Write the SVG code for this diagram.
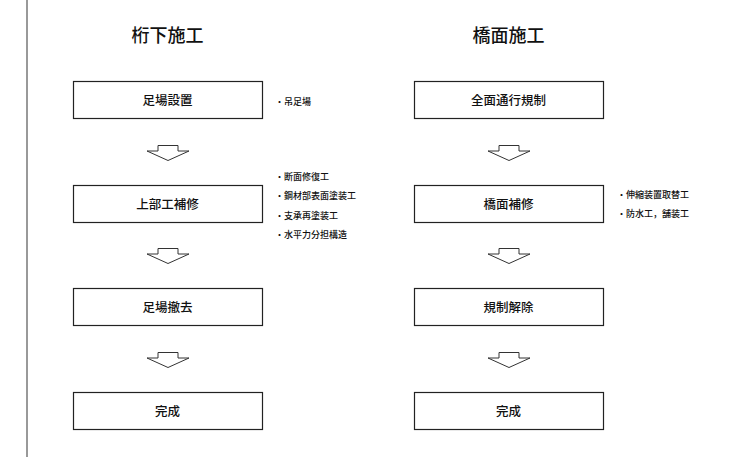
<svg xmlns="http://www.w3.org/2000/svg" width="740" height="461" viewBox="0 0 740 461">
<style>
.box{fill:#fff;stroke:#222;stroke-width:1.2}
.arr{fill:#fff;stroke:#333;stroke-width:1}
.title{font-family:"Noto Sans CJK JP","Noto Sans CJK SC",sans-serif;font-size:18px;font-weight:500;fill:#111;text-anchor:middle}
.lbl{font-family:"Noto Sans CJK JP","Noto Sans CJK SC",sans-serif;font-size:12.5px;font-weight:500;fill:#111;text-anchor:middle}
.note{font-family:"Noto Sans CJK JP","Noto Sans CJK SC",sans-serif;font-size:9px;font-weight:500;fill:#111}
</style>
<defs>
<path id="down" class="arr" d="M-10,0 H10 V5.5 H21 L0,15 L-21,5.5 H-10 Z"/>
</defs>
<rect width="740" height="461" fill="#fff"/>
<line x1="27" y1="0" x2="27" y2="457" stroke="#777" stroke-width="1.5"/>
<g id="titles">
<text class="title" x="167.5" y="42">桁下施工</text>
<text class="title" x="508.5" y="42">橋面施工</text>
</g>
<g id="n1"><rect class="box" x="73.5" y="81.5" width="189" height="37"/><text class="lbl" x="167.5" y="104.5">足場設置</text></g>
<g id="n2"><rect class="box" x="73.5" y="185.5" width="189" height="37"/><text class="lbl" x="167.5" y="208.5">上部工補修</text></g>
<g id="n3"><rect class="box" x="73.5" y="288.5" width="189" height="37"/><text class="lbl" x="167.5" y="311.5">足場撤去</text></g>
<g id="n4"><rect class="box" x="73.5" y="392.5" width="189" height="37"/><text class="lbl" x="167.5" y="415.5">完成</text></g>
<g id="n5"><rect class="box" x="414.5" y="81.5" width="189" height="37"/><text class="lbl" x="508.5" y="104.5">全面通行規制</text></g>
<g id="n6"><rect class="box" x="414.5" y="185.5" width="189" height="37"/><text class="lbl" x="508.5" y="208.5">橋面補修</text></g>
<g id="n7"><rect class="box" x="414.5" y="288.5" width="189" height="37"/><text class="lbl" x="508.5" y="311.5">規制解除</text></g>
<g id="n8"><rect class="box" x="414.5" y="392.5" width="189" height="37"/><text class="lbl" x="508.5" y="415.5">完成</text></g>
<g id="connectors">
<use href="#down" x="168" y="145.5"/>
<use href="#down" x="168" y="248.5"/>
<use href="#down" x="168" y="352.5"/>
<use href="#down" x="509" y="145.5"/>
<use href="#down" x="509" y="248.5"/>
<use href="#down" x="509" y="352.5"/>
</g>
<g id="notes">
<text class="note" x="275" y="104.5">・吊足場</text>
<text class="note" x="275" y="179.5">・断面修復工</text>
<text class="note" x="275" y="199">・鋼材部表面塗装工</text>
<text class="note" x="275" y="218.5">・支承再塗装工</text>
<text class="note" x="275" y="238">・水平力分担構造</text>
<text class="note" x="617" y="198">・伸縮装置取替工</text>
<text class="note" x="617" y="216.5">・防水工，舗装工</text>
</g>
</svg>
